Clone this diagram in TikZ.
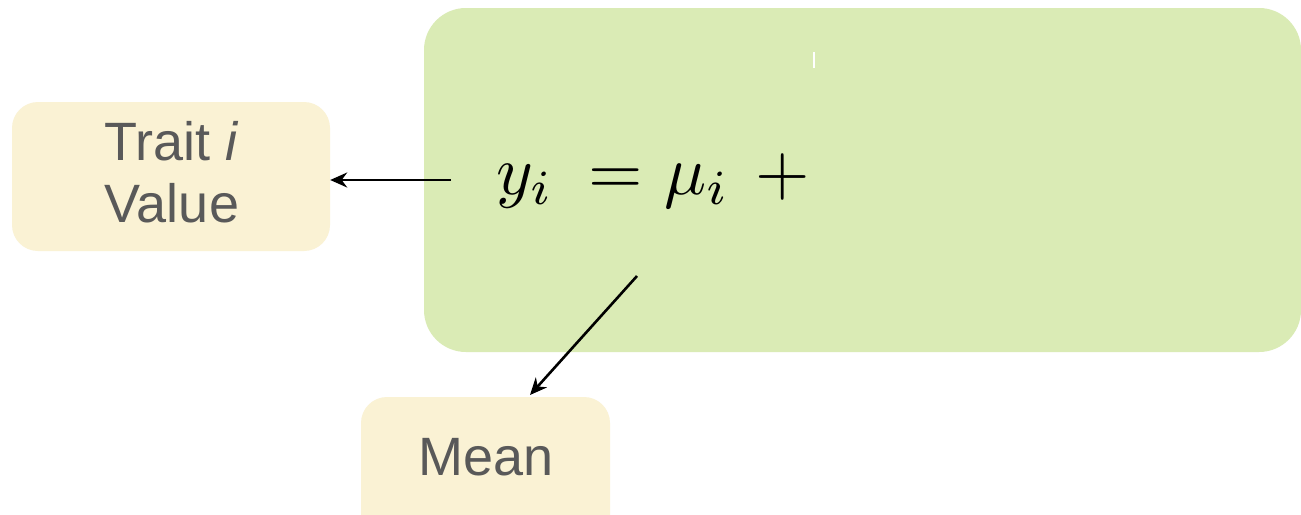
\documentclass[tikz,border=0pt]{standalone}
\usepackage{fontspec}
\setmainfont{Liberation Sans}
\usetikzlibrary{arrows.meta}
\definecolor{boxgreen}{HTML}{DAEBB5}
\definecolor{boxyellow}{HTML}{FAF2D4}
\definecolor{txtgray}{HTML}{595959}
\tikzset{
  ybox/.style={draw=none,fill=boxyellow,rounded corners=26pt,inner sep=0pt},
  lbl/.style={text=txtgray,font=\fontsize{54}{62}\selectfont,align=center,inner sep=0pt},
  arr/.style={line width=2.6pt,-{Stealth[length=17pt,width=15pt]}},
}
\begin{document}
\begin{tikzpicture}[x=1pt,y=-1pt]
\clip (0,0) rectangle (1301,514);
\fill[white] (0,0) rectangle (1301,514);
% green panel
\node[fill=boxgreen,rounded corners=42pt,inner sep=0pt,minimum width=877pt,minimum height=344pt] (panel) at (862.5,180) {};
\draw[white,line width=1.2pt] (814,52) -- (814,68);
% yellow boxes
\node[ybox,minimum width=318pt,minimum height=149pt] (trait) at (171,176.5) {};
\node[lbl,anchor=base] (traittxt) at (172,222) {Trait \textit{i}\\Value};
\node[ybox,minimum width=249pt,minimum height=150pt] (mean) at (485.5,472) {};
\node[lbl,anchor=base] (meantxt) at (486,475) {Mean};
% equation
\node[inner sep=0pt,anchor=base west] (eq) at (496,194) {\scalebox{7}{$y_i\mkern4mu \mathrel{=}\mkern0.4mu \mu_i\mkern2.7mu \mathbin{+}{}$}};
% connectors
\coordinate (a1) at (451,180);
\coordinate (a2) at (637,276);
\coordinate (m1) at (530,395);
\draw[arr] (a1) -- (trait.east |- a1);
\draw[arr] (a2) -- (m1);
\end{tikzpicture}
\end{document}
